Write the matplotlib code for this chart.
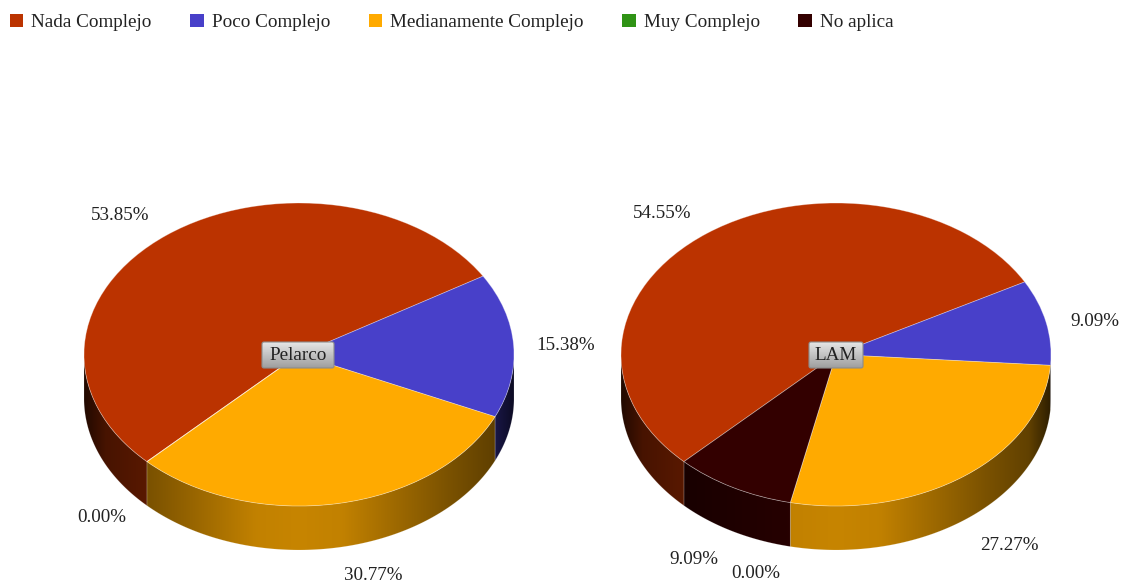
import matplotlib
matplotlib.use('Agg')
import matplotlib.pyplot as plt
import numpy as np
from matplotlib.patches import FancyBboxPatch, Patch, Polygon

plt.rcParams['font.family'] = ['Liberation Serif', 'DejaVu Serif']

W, H = 1123, 583

categories = ['Nada Complejo', 'Poco Complejo', 'Medianamente Complejo', 'Muy Complejo', 'No aplica']
colors = ['#BB3300', '#4840C9', '#FFAA00', '#2F9315', '#330000']

pelarco = [53.85, 15.38, 30.77, 0.00, 0.00]
lam = [54.55, 9.09, 27.27, 0.00, 9.09]

# labels sit where the original chart put them (pixel centres)
pelarco_labels = [('53.85%', 120, 216), ('15.38%', 566, 346), ('30.77%', 373, 575), ('0.00%', 102, 518)]
lam_labels = [('54.55%', 662, 214), ('9.09%', 1095, 322), ('27.27%', 1009, 546),
              ('9.09%', 694, 559), ('0.00%', 756, 574)]

RX, RY, DEPTH = 215, 151.5, 44
CY = 354.5


def shade(x):
    # wall lighting, brightest at the front of the pie
    return np.interp(np.abs(x), [0, 0.2, 0.7, 0.9, 1], [0.78, 0.76, 0.48, 0.38, 0.18])


def draw_pie(cx, values):
    top = H - (CY + RY + DEPTH)
    ax = fig.add_axes([(cx - RX) / W, top / H, 2 * RX / W, (2 * RY + DEPTH) / H])
    wedges, _ = ax.pie(values, colors=colors, startangle=225, counterclock=False,
                       wedgeprops={'edgecolor': (1, 1, 1, 0.35), 'linewidth': 0.6, 'zorder': 3})
    d = DEPTH / RY
    xs = np.linspace(-1, 1, 430)

    for w, col in zip(wedges, colors):
        t1, t2 = w.theta1, w.theta2
        if t2 - t1 < 0.01:
            continue
        # keep only the part of the slice that faces the viewer
        angles = np.append(np.arange(t1, t2, 0.5), t2)
        angles = angles[np.sin(np.radians(angles)) <= 0]
        if len(angles) < 2:
            continue
        rad = np.radians(angles)
        x, y = np.cos(rad), np.sin(rad)
        wall = Polygon(np.r_[np.c_[x, y], np.c_[x[::-1], y[::-1] - d]], closed=True, facecolor='none',
                       edgecolor=(1, 1, 1, 0.2), linewidth=0.5, zorder=2.5, transform=ax.transData)
        ax.add_patch(wall)
        base = np.array(matplotlib.colors.to_rgb(col))
        row = base[None, None, :] * shade(xs)[None, :, None]
        im = ax.imshow(row, extent=(-1, 1, -1 - d, 1), aspect='auto', zorder=2, interpolation='bilinear')
        im.set_clip_path(wall)

    ax.set_aspect('auto')
    ax.set_xlim(-1, 1)
    ax.set_ylim(-1 - d, 1)
    return wedges


def px_text(label, x, y, size=13.7):
    fig.text(x / W, 1 - y / H, label, ha='center', va='center', fontsize=size, color='#222222')


def button(label, x0, x1, y0, y1):
    box = FancyBboxPatch((x0 + 2, y0 + 2), x1 - x0 - 4, y1 - y0 - 4, boxstyle='round,pad=2',
                         facecolor='none', edgecolor='#8c8c8c', linewidth=0.8, zorder=6)
    over.add_patch(box)
    grad = np.linspace(0.9, 0.62, 64).reshape(-1, 1)
    im = over.imshow(grad, extent=(x0, x1, y1, y0), cmap='gray', vmin=0, vmax=1, aspect='auto', zorder=5)
    im.set_clip_path(box)
    over.text((x0 + x1) / 2, (y0 + y1) / 2 + 0.8, label, ha='center', va='center', fontsize=13.8,
              color='#222222', zorder=7)


fig = plt.figure(figsize=(W / 100, H / 100), dpi=100)

draw_pie(299, pelarco)
draw_pie(836, lam)

over = fig.add_axes([0, 0, 1, 1], zorder=10)
over.axis('off')
button('Pelarco', 262, 334, 342, 368)
button('LAM', 809, 863, 342, 368)
over.set_xlim(0, W)
over.set_ylim(H, 0)

for lab, x, y in pelarco_labels + lam_labels:
    px_text(lab, x, y)

handles = [Patch(facecolor=c, edgecolor='none') for c in colors]
fig.legend(handles, categories, ncol=5, frameon=False, fontsize=13.75, loc='upper left',
           bbox_to_anchor=(10 / W, 1 - 14 / H), borderaxespad=0, borderpad=0, handlelength=0.7,
           handleheight=0.7, handletextpad=0.42, columnspacing=2.02, labelcolor='#222222')

fig.savefig('out.png', dpi=100)
